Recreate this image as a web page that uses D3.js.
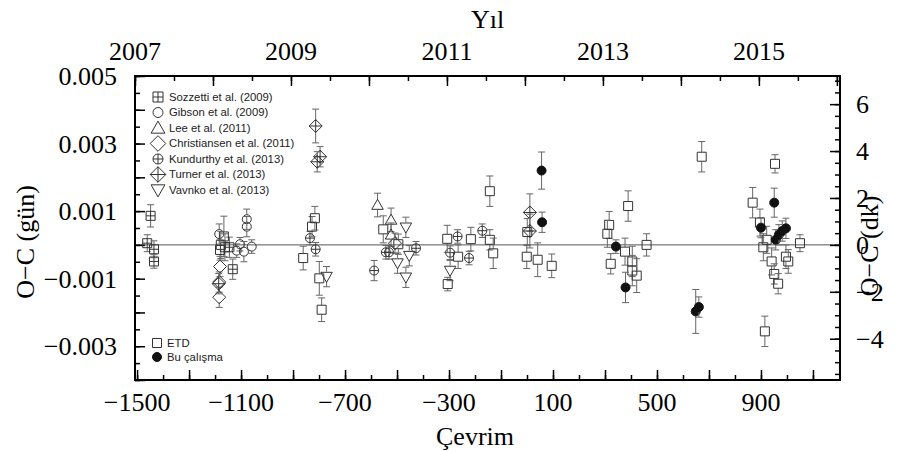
<!DOCTYPE html>
<html><head><meta charset="utf-8">
<script src="https://cdn.jsdelivr.net/npm/d3@7/dist/d3.min.js"></script>
<style>
body{margin:0;background:#fff;}
svg{display:block;}
.serif{font-family:"Liberation Serif","Times New Roman",serif;font-size:26px;fill:#000;}
.leg{font-family:"Liberation Sans",Arial,sans-serif;font-size:11.3px;fill:#222;}
</style>
</head><body>
<script>
// ---- data: [cycle, O-C (day), error (day)] ----
const etd = [
 [-1166,0.00025,0.0006],[-1178,0.0,0.0004],[-1162,-0.00007,0.0004],[-1181,-0.00015,0.0003],
 [-827,0.00054,0.0003],[-816,0.00079,0.00035],[-861,-0.00039,0.00035],[-799,-0.00099,0.0005],
 [-790,-0.00192,0.00035],[-553,0.00046,0.0004],[-495,0.00002,0.0003],[-307,0.00018,0.0004],
 [-216,0.00017,0.00035],[-265,-0.00035,0.00035],[-305,-0.00116,0.0002],[-143,0.00159,0.00045],
 [-143,0.00015,0.0003],[-130,-0.00025,0.00045],[1,0.00038,0.0004],[-1,-0.00035,0.00035],
 [41,-0.00044,0.0005],[95,-0.00062,0.00035],[316,0.00059,0.0004],[309,0.00033,0.0004],
 [322,-0.00056,0.0003],[389,0.00115,0.00045],[377,-0.0002,0.0004],[405,-0.00049,0.00045],
 [405,-0.00076,0.00045],[422,-0.00091,0.0005],[460,0.0,0.00033],[672,0.00261,0.00045],
 [954,0.0024,0.00027],[868,0.00125,0.00045],[896,0.00066,0.0004],[922,0.00015,0.0004],
 [909,-0.00007,0.0004],[941,-0.00049,0.0004],[951,-0.00086,0.0003],[966,-0.00115,0.0003],
 [996,-0.00035,0.00035],[1005,-0.00049,0.00035],[1050,0.00005,0.00025],[915,-0.00256,0.00045]
];
const buCalisma = [
 [56,0.0022,0.00055],[58,0.00067,0.0003],[342,-0.00005,0.0002],[379,-0.00126,0.00045],
 [649,-0.00197,0.00065],[661,-0.00184,0.0003],[951,0.00125,0.00043],[900,0.00051,0.0003],
 [957,0.00015,0.0003],[969,0.0003,0.0003],[982,0.00041,0.0003],[996,0.00049,0.0003]
];
const sozzetti = [
 [-1448,0.00086,0.00033],[-1461,0.00005,0.00025],[-1435,-0.00013,0.00025],[-1435,-0.00049,0.0002],
 [-1132,-0.00072,0.0003],[-1145,-0.00007,0.0003]
];
const gibson = [
 [-1184,0.00032,0.0003],[-1078,0.00076,0.0003],[-1078,0.00054,0.0003],[-1104,0.00002,0.0002],
 [-1117,-0.00017,0.0002],[-1089,-0.0002,0.0003],[-1059,-0.00005,0.0002]
];
const lee = [[-575,0.00118,0.00035],[-523,0.00074,0.00035],[-523,0.0003,0.00035]];
const christiansen = [[-1181,-0.00064,0.0003],[-1184,-0.0011,0.0003],[-1184,-0.00155,0.0003],[-508,0.00005,0.0003]];
const kundurthy = [
 [-835,0.0002,0.0002],[-813,-0.00013,0.0002],[-588,-0.00076,0.0003],[-543,-0.00022,0.0002],
 [-531,-0.00022,0.0002],[-427,-0.0001,0.0002],[-267,0.00025,0.0002],[-296,-0.00023,0.0002],
 [-223,-0.00039,0.0002],[-172,0.00042,0.0002]
];
const turner = [
 [-813,0.00352,0.0005],[-796,0.00261,0.0003],[-807,0.00246,0.0003],[11,0.00096,0.00055],
 [11,0.00041,0.0005],[-1186,-0.00115,0.0003]
];
const vanko = [
 [-771,-0.00094,0.0003],[-466,0.00052,0.0003],[-498,-0.00054,0.0003],[-453,-0.00032,0.0003],
 [-466,-0.00096,0.0003],[-296,-0.00076,0.0003]
];
const cycleLabels = [-1500,-1100,-700,-300,100,500,900];
const yearLabels = [2007,2009,2011,2013,2015];
const ocLabels = [0.005,0.003,0.001,-0.001,-0.003];
const minLabels = [6,4,2,0,-2,-4];
const legendNames = ["Sozzetti et al. (2009)","Gibson et al. (2009)","Lee et al. (2011)",
 "Christiansen et al. (2011)","Kundurthy et al. (2013)","Turner et al. (2013)","Vavnko et al. (2013)"];
const legend2Names = ["ETD","Bu çalışma"];

// ---- layout ----
const W=901,H=452, L=135,R=840,T=76,B=380;
const svg = d3.select("body").append("svg").attr("width",W).attr("height",H);
const x = d3.scaleLinear().domain([-1508,1204]).range([L,R]);
const xYear = d3.scaleLinear().domain([2007,2016.04]).range([L,R]);
const y = d3.scaleLinear().domain([-0.004,0.005]).range([B,T]);
const yMin = d3.scaleLinear().domain([-0.004*1440,0.005*1440]).range([B,T]);

// zero line
svg.append("line").attr("x1",L).attr("x2",R).attr("y1",y(0)).attr("y2",y(0))
  .attr("stroke","#555").attr("stroke-width",1);

function tickAxis(axisFn, scale, vals, size, transform){
  const g = svg.append("g").attr("transform",transform)
    .call(axisFn(scale).tickValues(vals).tickSize(size).tickFormat(""));
  g.select(".domain").remove();
  g.selectAll("line").attr("stroke","#000").attr("stroke-width",1.5);
}
const r = (a,b,s)=>d3.range(a,b+s/2,s).map(v=>+v.toFixed(6));
// bottom
tickAxis(d3.axisBottom,x,r(-1500,1100,200),-10,`translate(0,${B})`);
tickAxis(d3.axisBottom,x,r(-1500,1100,100),-5,`translate(0,${B})`);
// top
tickAxis(d3.axisTop,xYear,r(2007,2016,1),-10,`translate(0,${T})`);
tickAxis(d3.axisTop,xYear,r(2007,2016,0.5),-5,`translate(0,${T})`);
// left
tickAxis(d3.axisLeft,y,r(-0.004,0.005,0.001),-10,`translate(${L},0)`);
tickAxis(d3.axisLeft,y,r(-0.004,0.005,0.0005),-5,`translate(${L},0)`);
// right
tickAxis(d3.axisRight,yMin,r(-4,6,2),-10,`translate(${R},0)`);
tickAxis(d3.axisRight,yMin,r(-5.5,7,0.5),-5,`translate(${R},0)`);

// frame
svg.append("rect").attr("x",L).attr("y",T).attr("width",R-L).attr("height",B-T)
  .attr("fill","none").attr("stroke","#000").attr("stroke-width",2);

const fmtMinus = s => String(s).replace("-","\u2212");
// tick labels
svg.selectAll(".bl").data(cycleLabels).enter().append("text").attr("class","serif")
  .attr("x",d=>x(d)).attr("y",411).attr("text-anchor","middle").text(d=>fmtMinus(d));
svg.selectAll(".tl").data(yearLabels).enter().append("text").attr("class","serif")
  .attr("x",d=>xYear(d)).attr("y",60).attr("text-anchor","middle").text(d=>d);
svg.selectAll(".ll").data(ocLabels).enter().append("text").attr("class","serif")
  .attr("x",117).attr("y",d=>y(d)).attr("dy","0.35em").attr("text-anchor","end")
  .text(d=>fmtMinus(d3.format(".3f")(d)));
svg.selectAll(".rl").data(minLabels).enter().append("text").attr("class","serif")
  .attr("x",856).attr("y",d=>yMin(d)).attr("dy","0.35em").attr("text-anchor","start")
  .text(d=>fmtMinus(d));
// titles
svg.append("text").attr("class","serif").attr("x",(L+R)/2).attr("y",28).attr("text-anchor","middle").text("Yıl");
svg.append("text").attr("class","serif").attr("x",475).attr("y",445).attr("text-anchor","middle").text("Çevrim");
svg.append("text").attr("class","serif").attr("transform","translate(34,242) rotate(-90)")
  .attr("text-anchor","middle").text("O\u2212C (gün)");
svg.append("text").attr("class","serif").attr("transform","translate(878,246) rotate(-90)")
  .attr("text-anchor","middle").text("O\u2212C (dk)");

// ---- marker shapes ----
const SC="#333";
function marker(g, type, s){
  const h=s/2;
  const add=(d)=>g.append("path").attr("d",d).attr("fill","none").attr("stroke",SC).attr("stroke-width",1);
  if(type==="square"){ add(`M${-h},${-h}H${h}V${h}H${-h}Z`); }
  else if(type==="sqplus"){ add(`M${-h},${-h}H${h}V${h}H${-h}Z M0,${-h}V${h} M${-h},0H${h}`); }
  else if(type==="circle"){ g.append("circle").attr("r",h).attr("fill","none").attr("stroke",SC); }
  else if(type==="cplus"){ g.append("circle").attr("r",h).attr("fill","none").attr("stroke",SC); add(`M0,${-h}V${h} M${-h},0H${h}`); }
  else if(type==="filled"){ g.append("circle").attr("r",h).attr("fill","#111").attr("stroke","#111"); }
  else if(type==="tri"){ const a=h*1.15; add(`M0,${-a}L${a},${a*0.75}L${-a},${a*0.75}Z`); }
  else if(type==="itri"){ const a=h*1.15; add(`M0,${a}L${a},${-a*0.75}L${-a},${-a*0.75}Z`); }
  else if(type==="diamond"){ const a=h*1.3; add(`M0,${-a}L${a},0L0,${a}L${-a},0Z`); }
  else if(type==="dplus"){ const a=h*1.3; add(`M0,${-a}L${a},0L0,${a}L${-a},0Z M0,${-a}V${a} M${-a},0H${a}`); }
}

const series = [
 {data:sozzetti,type:"sqplus",size:9},
 {data:gibson,type:"circle",size:9},
 {data:lee,type:"tri",size:10},
 {data:christiansen,type:"diamond",size:10},
 {data:kundurthy,type:"cplus",size:9},
 {data:turner,type:"dplus",size:10},
 {data:vanko,type:"itri",size:10},
 {data:etd,type:"square",size:9},
 {data:buCalisma,type:"filled",size:9}
];
const EB="#666";
series.forEach(s=>{
  const gs = svg.append("g");
  s.data.forEach(d=>{
    const cx=x(d[0]), cy=y(d[1]), yt=y(d[1]+d[2]), yb=y(d[1]-d[2]), h=s.size/2;
    const eb = gs.append("g").attr("stroke",EB).attr("stroke-width",1);
    if(cy-h>yt) eb.append("line").attr("x1",cx).attr("x2",cx).attr("y1",yt).attr("y2",cy-h);
    if(cy+h<yb) eb.append("line").attr("x1",cx).attr("x2",cx).attr("y1",cy+h).attr("y2",yb);
    eb.append("line").attr("x1",cx-3.5).attr("x2",cx+3.5).attr("y1",yt).attr("y2",yt);
    eb.append("line").attr("x1",cx-3.5).attr("x2",cx+3.5).attr("y1",yb).attr("y2",yb);
    const g = gs.append("g").attr("transform",`translate(${cx},${cy})`);
    marker(g,s.type,s.size);
  });
});

// ---- legends ----
const legTypes=["sqplus","circle","tri","diamond","cplus","dplus","itri"];
legendNames.forEach((n,i)=>{
  const yy=97+i*15.5;
  const g=svg.append("g").attr("transform",`translate(158,${yy})`);
  marker(g,legTypes[i],i===2||i===3||i===5||i===6?12:10);
  svg.append("text").attr("class","leg").attr("x",169).attr("y",yy).attr("dy","0.35em").text(n);
});
const leg2Types=["square","filled"];
legend2Names.forEach((n,i)=>{
  const yy=343+i*14;
  const g=svg.append("g").attr("transform",`translate(157,${yy})`);
  marker(g,leg2Types[i],9);
  svg.append("text").attr("class","leg").attr("x",167).attr("y",yy).attr("dy","0.35em").text(n);
});
</script>
</body></html>
